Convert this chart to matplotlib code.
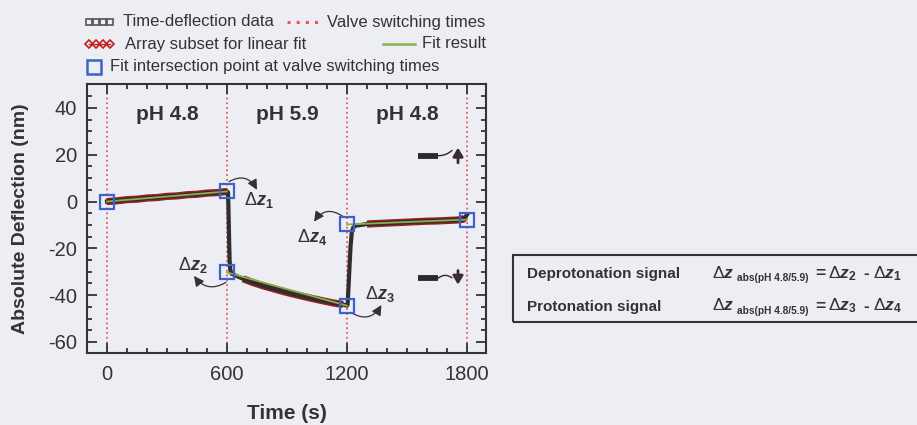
import numpy as np
import matplotlib
matplotlib.use('Agg')
import matplotlib.pyplot as plt
from matplotlib.lines import Line2D
from matplotlib.patches import Rectangle
from matplotlib.ticker import MultipleLocator

plt.rcParams['font.family'] = ['Liberation Sans', 'DejaVu Sans']
plt.rcParams['axes.unicode_minus'] = False
plt.rcParams['mathtext.fontset'] = 'custom'
plt.rcParams['mathtext.rm'] = 'Liberation Sans'
plt.rcParams['mathtext.it'] = 'Liberation Sans:italic'
plt.rcParams['mathtext.bf'] = 'Liberation Sans:bold'
plt.rcParams['mathtext.bfit'] = 'Liberation Sans:bold:italic'

# time-deflection record (s, nm)
time_s = [0, 50, 100, 150, 200, 250, 300, 350, 400, 450, 500, 550, 600,
          605, 607, 609, 611, 613, 616, 622, 640,
          680, 730, 780, 830, 880, 930, 980, 1030, 1080, 1130, 1180, 1200,
          1203, 1208, 1213, 1218, 1224, 1232, 1245, 1270,
          1300, 1350, 1400, 1450, 1500, 1550, 1600, 1650, 1700, 1750, 1780, 1790, 1800]
deflection_nm = [0.0, 0.3, 0.8, 1.0, 1.5, 1.7, 2.2, 2.4, 2.9, 3.1, 3.6, 3.8, 4.3,
                 4.0, -2.0, -10.0, -18.0, -25.0, -29.0, -30.8, -31.5,
                 -33.0, -34.6, -36.0, -37.2, -38.4, -39.5, -40.5, -41.5, -42.4, -43.3, -44.0, -44.5,
                 -44.0, -36.0, -27.0, -19.0, -13.0, -11.0, -10.3, -10.0,
                 -9.6, -9.4, -9.2, -9.0, -8.8, -8.6, -8.4, -8.3, -8.1, -7.9, -7.6, -6.8, -5.6]

# time windows used for the linear fits (s)
fit_windows = [(0, 600), (680, 1180), (1300, 1790)]

# valve switching times and fit lines evaluated at them
switch_times = [0, 600, 1200, 1800]
fit_start_nm = [0.0, -30.3, -9.8]
fit_end_nm = [4.3, -44.5, -7.7]
phase_labels = ['pH 4.8', 'pH 5.9', 'pH 4.8']

BG = '#ededf4'
INK = '#333333'
RED = '#9a1f1f'
GREEN = '#8db04c'
BLUE = '#3c63c9'
VALVE = '#e25a5a'

W, H = 917, 425


def fx(p):
    return p / W


def fy(p):
    return 1 - p / H


def dz(sub):
    # upright delta, bold italic z, bold subscript
    return 'Δ' + r'$\mathbfit{z}_{\mathbf{%s}}$' % sub


fig = plt.figure(figsize=(W / 100, H / 100), dpi=100, facecolor=BG)
ax = fig.add_axes([fx(87), fy(353), 399 / W, 269 / H])
ax.set_facecolor(BG)

t = np.array(time_s)
z = np.array(deflection_nm)

for ts in switch_times:
    ax.axvline(ts, color=VALVE, lw=1.3, ls=':', zorder=1)

# subsets used for fitting
for lo, hi in fit_windows:
    m = (t >= lo) & (t <= hi)
    ax.plot(t[m], z[m], color=RED, lw=5.2, solid_capstyle='butt', zorder=2)

# raw record
ax.plot(t, z, color='#2e2e2e', lw=3.0, zorder=3)

# fit results and their intersections with the switching times
px, py = [], []
for i in range(len(fit_start_nm)):
    x0, x1 = switch_times[i], switch_times[i + 1]
    ax.plot([x0, x1], [fit_start_nm[i], fit_end_nm[i]], color=GREEN, lw=1.3, zorder=4)
    px += [x0, x1]
    py += [fit_start_nm[i], fit_end_nm[i]]
ax.plot(px, py, ls='none', marker='s', ms=9.5, mfc='none', mec=BLUE, mew=1.6, zorder=5)

for i, lab in enumerate(phase_labels):
    mid = (switch_times[i] + switch_times[i + 1]) / 2
    ax.text(mid, 37, lab, ha='center', va='center', fontsize=15,
            fontweight='bold', color=INK)

# delta-z labels with curved arrows
dz_labels = [('1', 760, 0.8), ('2', 430, -27), ('4', 1025, -15), ('3', 1365, -39.6)]
for sub, xl, yl in dz_labels:
    ax.text(xl, yl, dz(sub), ha='center', va='center', fontsize=13, color=INK)

dz_arrows = [((610, 8.5), (750, 5.0), -0.5),
             ((595, -34.5), (435, -31.8), -0.45),
             ((1180, -6.4), (1035, -8.6), 0.5),
             ((1222, -47.5), (1372, -44.2), 0.5)]
for start, end, rad in dz_arrows:
    ax.annotate('', xy=end, xytext=start,
                arrowprops=dict(arrowstyle='-|>,head_length=0.6,head_width=0.3',
                                color=INK, lw=0.9, shrinkA=0, shrinkB=0,
                                connectionstyle='arc3,rad=%s' % rad))

# cantilever sketches (bending up / down)
for yb, y_tip, rad, y_a, y_b in [(19.6, 21.8, 0.2, 16.5, 23.0), (-32.8, -32.6, -0.4, -29.5, -35.5)]:
    ax.plot([1555, 1655], [yb, yb], color='#2a2a2a', lw=4.2, solid_capstyle='butt', zorder=3)
    ax.annotate('', xy=(1725, y_tip), xytext=(1655, yb),
                arrowprops=dict(arrowstyle='-', color='#2a2a2a', lw=1.0,
                                shrinkA=0, shrinkB=0,
                                connectionstyle='arc3,rad=%s' % rad))
    ax.annotate('', xy=(1755, y_b), xytext=(1755, y_a),
                arrowprops=dict(arrowstyle='-|>,head_length=0.5,head_width=0.3',
                                color='#3a2a35', lw=2.0, shrinkA=0, shrinkB=0))

ax.set_xlim(-100, 1895)
ax.set_ylim(-64.7, 50.2)
ax.set_xticks(switch_times)
ax.xaxis.set_minor_locator(MultipleLocator(100))
ax.set_yticks([-60, -40, -20, 0, 20, 40])
ax.yaxis.set_minor_locator(MultipleLocator(5))
ax.tick_params(which='both', direction='in', top=True, right=True, color=INK, width=1.3)
ax.tick_params(which='major', length=7, labelsize=14.5, labelcolor=INK, pad=7)
ax.tick_params(which='minor', length=3.5)
ax.tick_params(axis='x', which='major', pad=9)
for s in ax.spines.values():
    s.set_color(INK)
    s.set_linewidth(1.5)

ax.set_xlabel('Time (s)', fontsize=15, fontweight='bold', color=INK, labelpad=14)
ax.set_ylabel('Absolute Deflection (nm)', fontsize=14, fontweight='bold', color=INK, labelpad=14)

# legend, laid out by hand above the axes
ft = fig.transFigure
fig.add_artist(Line2D([fx(88.5), fx(95.5), fx(102.5), fx(109.5)], [fy(22)] * 4, transform=ft,
                      ls='none', marker='s', ms=3.8, mfc='none', mec='#555555', mew=1.2))
fig.text(fx(123), fy(22), 'Time-deflection data', va='center', fontsize=12, color=INK)
fig.add_artist(Line2D([fx(287), fx(318)], [fy(22)] * 2, transform=ft,
                      color=VALVE, lw=2.2, ls=(0, (1, 2.0))))
fig.text(fx(327), fy(22), 'Valve switching times', va='center', fontsize=12, color=INK)

fig.add_artist(Line2D([fx(88.5), fx(95.5), fx(102.5), fx(109.5)], [fy(44)] * 4, transform=ft,
                      color='#c02020', lw=1.0, marker='D', ms=4.2, mfc='none', mec='#c02020', mew=1.2))
fig.text(fx(125), fy(44), 'Array subset for linear fit', va='center', fontsize=12, color=INK)
fig.add_artist(Line2D([fx(383), fx(415)], [fy(44)] * 2, transform=ft, color=GREEN, lw=1.8))
fig.text(fx(422), fy(44), 'Fit result', va='center', fontsize=12, color=INK)

fig.add_artist(Line2D([fx(93.5)], [fy(67)], transform=ft, ls='none', marker='s', ms=9.5,
                      mfc='none', mec=BLUE, mew=1.8))
fig.text(fx(110), fy(67), 'Fit intersection point at valve switching times', va='center',
         fontsize=12, color=INK)

# signal definitions box
fig.add_artist(Rectangle((fx(513), fy(322)), (935 - 513) / W, (322 - 255) / H, transform=ft,
                         fill=False, edgecolor=INK, lw=1.5))
rows = [('Deprotonation signal', 278, '2', '1'), ('Protonation signal', 310.5, '3', '4')]
for name, base, a, b in rows:
    fig.text(fx(527), fy(base), name, va='baseline', fontsize=11, fontweight='bold', color=INK)
    fig.text(fx(712), fy(base), 'Δ' + r'$\mathbfit{z}$', va='baseline', fontsize=12.5, color=INK)
    fig.text(fx(737), fy(base + 3), 'abs(pH 4.8/5.9)', va='baseline', fontsize=7.3,
             fontweight='bold', color=INK)
    fig.text(fx(815), fy(base), '=', va='baseline', fontsize=12.5, fontweight='bold', color=INK)
    fig.text(fx(828), fy(base), dz(a), va='baseline', fontsize=12.5, color=INK)
    fig.text(fx(863), fy(base), '-', va='baseline', fontsize=12.5, fontweight='bold', color=INK)
    fig.text(fx(873), fy(base), dz(b), va='baseline', fontsize=12.5, color=INK)

fig.savefig('out.png', dpi=100, facecolor=BG)
